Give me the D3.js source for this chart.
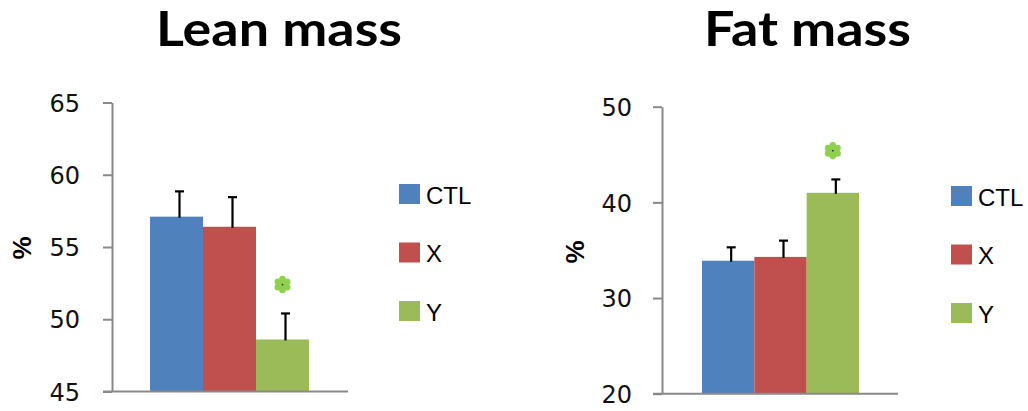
<!DOCTYPE html>
<html><head><meta charset="utf-8">
<script src="https://cdn.jsdelivr.net/npm/d3@7"></script>
<style>body{margin:0;background:#fff}svg{display:block}</style>
</head><body>
<svg id="chart" width="1028" height="411"></svg>
<script>
// ---- data ----
const groups = ["CTL", "X", "Y"];
const colors = ["#4F81BD", "#C0504D", "#9BBB59"];
const leanTitle = "Lean mass";
const leanMean = [57.1, 56.4, 48.6];
const leanErr = [1.75, 2.05, 1.8];
const leanTicks = [45, 50, 55, 60, 65];
const leanStar = [null, null, 52.4];
const fatTitle = "Fat mass";
const fatMean = [33.9, 34.3, 41.0];
const fatErr = [1.4, 1.7, 1.4];
const fatTicks = [20, 30, 40, 50];
const fatStar = [null, null, 45.4];
const yLabel = "%";

const svg = d3.select("#chart");

function panel(cfg) {
  const g = svg.append("g");
  const y = d3.scaleLinear().domain(cfg.domain).range([cfg.bottom, cfg.top]);
  const x = d3.scaleBand().domain(groups).range(cfg.barRange).paddingInner(0);

  // title
  g.append("text").attr("x", cfg.titleX).attr("y", 46)
    .attr("text-anchor", "middle")
    .attr("textLength", cfg.titleW).attr("lengthAdjust", "spacingAndGlyphs")
    .style("font-family", "Lato, 'Open Sans', sans-serif").style("font-weight", "bold")
    .style("font-size", "48px").attr("fill", "#000").text(cfg.title);

  // y axis
  const ax = g.append("g").attr("transform", `translate(${cfg.axisX},0)`)
    .call(d3.axisLeft(y).tickValues(cfg.ticks).tickSize(9).tickPadding(cfg.pad).tickSizeOuter(0));
  ax.select(".domain").attr("stroke", "#898989").attr("stroke-width", 2);
  ax.selectAll(".tick line").attr("stroke", "#898989").attr("stroke-width", 2);
  ax.selectAll(".tick text").style("font-family", "'DejaVu Sans', Verdana, sans-serif")
    .style("font-size", "24px").attr("fill", "#111").attr("dy", "0.36em");

  // bars
  g.selectAll(".bar").data(cfg.mean).join("rect")
    .attr("x", (d, i) => x(groups[i])).attr("width", x.bandwidth())
    .attr("y", d => y(d)).attr("height", d => y(cfg.domain[0]) - y(d))
    .attr("fill", (d, i) => colors[i]);

  // x axis line
  g.append("line").attr("x1", cfg.axisX - 9).attr("x2", cfg.xEnd)
    .attr("y1", y(cfg.domain[0])).attr("y2", y(cfg.domain[0]))
    .attr("stroke", "#898989").attr("stroke-width", 2);

  // error bars
  const eb = g.selectAll(".eb").data(cfg.mean).join("g");
  const cx = i => x(groups[i]) + x.bandwidth() / 2 + 3;
  eb.append("line").attr("x1", (d, i) => cx(i)).attr("x2", (d, i) => cx(i))
    .attr("y1", (d) => y(d) + 1).attr("y2", (d, i) => y(d + cfg.err[i]))
    .attr("stroke", "#000").attr("stroke-width", 2.2);
  eb.append("line").attr("x1", (d, i) => cx(i) - 4.5).attr("x2", (d, i) => cx(i) + 4.5)
    .attr("y1", (d, i) => y(d + cfg.err[i])).attr("y2", (d, i) => y(d + cfg.err[i]))
    .attr("stroke", "#000").attr("stroke-width", 2.2);

  // significance stars
  cfg.star.forEach((s, i) => {
    if (s == null) return;
    const sx = x(groups[i]) + x.bandwidth() / 2, sy = y(s);
    const st = g.append("g").attr("transform", `translate(${sx},${sy})`);
    d3.range(6).forEach(k => {
      const a = k * Math.PI / 3 - Math.PI / 2;
      st.append("circle").attr("cx", 5.4 * Math.cos(a)).attr("cy", 5.4 * Math.sin(a))
        .attr("r", 3.3).attr("fill", "#8FD14F");
    });
    st.append("circle").attr("r", 4.4).attr("fill", "#8FD14F");
    st.append("circle").attr("r", 0.9).attr("fill", "#333");
  });

  // y label
  g.append("text").attr("transform", `translate(${cfg.labelX},${cfg.labelY}) rotate(-90)`)
    .attr("text-anchor", "middle").attr("dy", "0.35em")
    .style("font-family", "'Liberation Sans', Arial, sans-serif").style("font-weight", "bold")
    .style("font-size", "26px").attr("fill", "#000").text(yLabel);

  // legend
  const lg = g.selectAll(".lg").data(groups).join("g")
    .attr("transform", (d, i) => `translate(${cfg.legX},${cfg.legY + i * 58.5})`);
  lg.append("rect").attr("width", 21).attr("height", 20).attr("fill", (d, i) => colors[i]);
  lg.append("text").attr("x", 27).attr("y", 19.5)
    .style("font-family", "'Liberation Sans', Arial, sans-serif").style("font-size", "24px")
    .attr("fill", "#000").text(d => d);
}

panel({
  title: leanTitle, titleX: 279, titleW: 246, domain: [45, 65], ticks: leanTicks,
  top: 102.5, bottom: 391.5, axisX: 112, pad: 23, barRange: [150, 309], xEnd: 348,
  mean: leanMean, err: leanErr, star: leanStar, labelX: 22, labelY: 248,
  legX: 399, legY: 184
});
panel({
  title: fatTitle, titleX: 807.5, titleW: 207, domain: [20, 50], ticks: fatTicks,
  top: 106.7, bottom: 393.7, axisX: 662, pad: 21, barRange: [702, 859], xEnd: 898,
  mean: fatMean, err: fatErr, star: fatStar, labelX: 575, labelY: 252,
  legX: 951, legY: 186
});
</script>
</body></html>
